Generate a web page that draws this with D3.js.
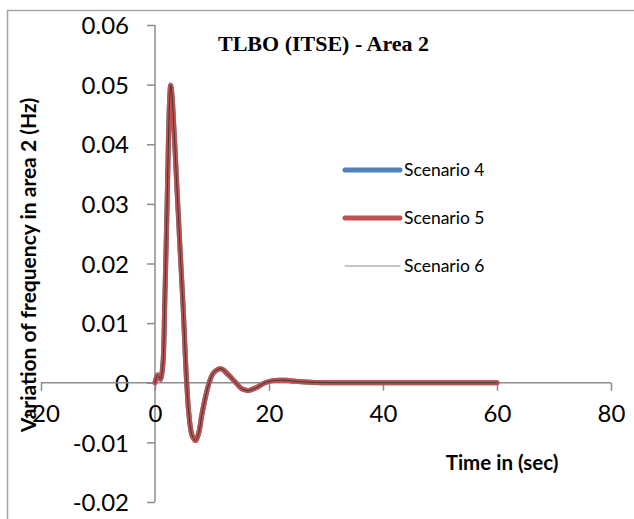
<!DOCTYPE html>
<html>
<head>
<meta charset="utf-8">
<script src="https://cdnjs.cloudflare.com/ajax/libs/d3/7.8.5/d3.min.js"></script>
<style>
  body { margin: 0; background: #fff; }
  svg { display: block; }
</style>
</head>
<body>
<div id="chart"></div>
<script>
// time (sec) and frequency deviation
var time = [0, 0.45, 0.95, 1.2, 1.45, 1.7, 1.9, 2.15, 2.35, 2.55, 2.75, 2.95, 3.3, 3.7, 4.1, 4.5, 4.97, 5.26, 5.56,
            5.97, 6.5, 7.13, 7.7, 8.19, 8.9, 9.5, 10.3, 11.58, 12.8, 14.2, 15.2, 16.4, 18.0, 19.3, 21.0, 23.0, 25.0, 28.0, 32, 40, 50, 60];
var scenario4 = [0, 0.0013, 0.0006, 0.0015, 0.004, 0.013, 0.0208, 0.031, 0.0404, 0.047, 0.0499, 0.0485, 0.043, 0.0355, 0.028, 0.0205, 0.012, 0.0058, 0,
                 -0.0055, -0.0088, -0.0097, -0.0083, -0.0055, -0.0022, 0, 0.0017, 0.00235, 0.0014, 0, -0.0010, -0.0013, -0.0007, 0, 0.0004, 0.0004, 0.0002, 0.00005, 0, 0, 0, 0];
var scenario5 = [0, 0.0013, 0.0006, 0.0015, 0.004, 0.013, 0.0208, 0.031, 0.0404, 0.047, 0.0499, 0.0485, 0.043, 0.0355, 0.028, 0.0205, 0.012, 0.0058, 0,
                 -0.0055, -0.0088, -0.0097, -0.0083, -0.0055, -0.0022, 0, 0.0017, 0.00235, 0.0014, 0, -0.0010, -0.0013, -0.0007, 0, 0.0004, 0.0004, 0.0002, 0.00005, 0, 0, 0, 0];
var scenario6 = [0, 0.0013, 0.0006, 0.0015, 0.004, 0.013, 0.0208, 0.031, 0.0404, 0.047, 0.0499, 0.0485, 0.043, 0.0355, 0.028, 0.0205, 0.012, 0.0058, 0,
                 -0.0055, -0.0088, -0.0097, -0.0083, -0.0055, -0.0022, 0, 0.0017, 0.00235, 0.0014, 0, -0.0010, -0.0013, -0.0007, 0, 0.0004, 0.0004, 0.0002, 0.00005, 0, 0, 0, 0];

var xTicks = [-20, 0, 20, 40, 60, 80];
var yTicks = [-0.02, -0.01, 0, 0.01, 0.02, 0.03, 0.04, 0.05, 0.06];

var series = [
  {name: "Scenario 4", values: scenario4, color: "#4F81BD", width: 5},
  {name: "Scenario 5", values: scenario5, color: "#C0504D", width: 5},
  {name: "Scenario 6", values: scenario6, color: "#3a3a3a", width: 1}
];

var width = 634, height = 519;
var axisColor = "#8c8c8c";

var svg = d3.select("#chart").append("svg")
    .attr("width", width)
    .attr("height", height);

// chart frame (right and bottom edges are cut off in the original)
svg.append("rect")
    .attr("x", 7.5).attr("y", 10.5)
    .attr("width", 700).attr("height", 600)
    .attr("fill", "none")
    .attr("stroke", "#a6a6a6")
    .attr("stroke-width", 1.5);

var xScale = d3.scaleLinear().domain([-20, 80]).range([41, 611]);
var yScale = d3.scaleLinear().domain([-0.02, 0.06]).range([502, 25]);

function hyphen(s) { return s.replace("\u2212", "-"); }

// y axis sits at x = 0
var yAxis = svg.append("g")
    .attr("transform", "translate(" + xScale(0) + ",0)")
    .call(d3.axisLeft(yScale).tickValues(yTicks).tickSize(8).tickPadding(18)
      .tickFormat(function(d) { return d === 0 ? "0" : hyphen(d3.format(".2f")(d)); }));

// x axis sits at y = 0
var xAxis = svg.append("g")
    .attr("transform", "translate(0," + yScale(0) + ")")
    .call(d3.axisBottom(xScale).tickValues(xTicks).tickSize(8).tickPadding(14)
      .tickFormat(function(d) { return hyphen(d3.format("d")(d)); }));

[xAxis, yAxis].forEach(function(ax) {
  ax.select(".domain").attr("stroke", axisColor).attr("stroke-width", 1.5);
  ax.selectAll(".tick line").attr("stroke", axisColor).attr("stroke-width", 1.5);
  ax.selectAll(".tick text")
    .attr("fill", "#000")
    .style("font-family", "Lato, 'Open Sans', sans-serif")
    .style("font-size", "24px");
});
yAxis.select(".domain").attr("d", "M0," + yScale(-0.02) + "V" + yScale(0.06));
xAxis.select(".domain").attr("d", "M" + xScale(-20) + ",0H" + xScale(80));
yAxis.selectAll(".tick text").attr("dy", "0.36em");

var line = d3.line()
    .x(function(d, i) { return xScale(time[i]); })
    .y(function(d) { return yScale(d); })
    .curve(d3.curveCatmullRom.alpha(0.5));

svg.selectAll(".series")
    .data(series)
  .enter().append("path")
    .attr("class", "series")
    .attr("d", function(d) { return line(d.values); })
    .attr("fill", "none")
    .attr("stroke", function(d) { return d.color; })
    .attr("stroke-width", function(d) { return d.width; })
    .attr("stroke-linejoin", "round")
    .attr("stroke-linecap", "round");

// legend
var legend = svg.selectAll(".legend")
    .data(series)
  .enter().append("g")
    .attr("class", "legend")
    .attr("transform", function(d, i) { return "translate(343," + (170 + i * 48) + ")"; });

legend.append("line")
    .attr("x1", 2).attr("x2", 57)
    .attr("stroke", function(d) { return d.name === "Scenario 6" ? "#8c8c8c" : d.color; })
    .attr("stroke-width", function(d) { return d.width; })
    .attr("stroke-linecap", "round");

legend.append("text")
    .attr("x", 61)
    .attr("dy", "0.35em")
    .style("font-family", "Lato, 'Open Sans', sans-serif")
    .style("font-size", "17.5px")
    .text(function(d) { return d.name; });

// title
svg.append("text")
    .attr("x", 218).attr("y", 51)
    .style("font-family", "'Liberation Serif', 'Times New Roman', serif")
    .style("font-weight", "bold")
    .style("font-size", "22px")
    .text("TLBO (ITSE) - Area 2");

// axis titles
svg.append("text")
    .attr("x", 502).attr("y", 470)
    .attr("text-anchor", "middle")
    .style("font-family", "Lato, 'Open Sans', sans-serif")
    .style("font-weight", "bold")
    .style("font-size", "20.5px")
    .text("Time in (sec)");

svg.append("text")
    .attr("transform", "translate(36,265) rotate(-90)")
    .attr("text-anchor", "middle")
    .style("font-family", "Lato, 'Open Sans', sans-serif")
    .style("font-weight", "bold")
    .style("font-size", "21px")
    .text("Variation of frequency in area 2 (Hz)");
</script>
</body>
</html>
